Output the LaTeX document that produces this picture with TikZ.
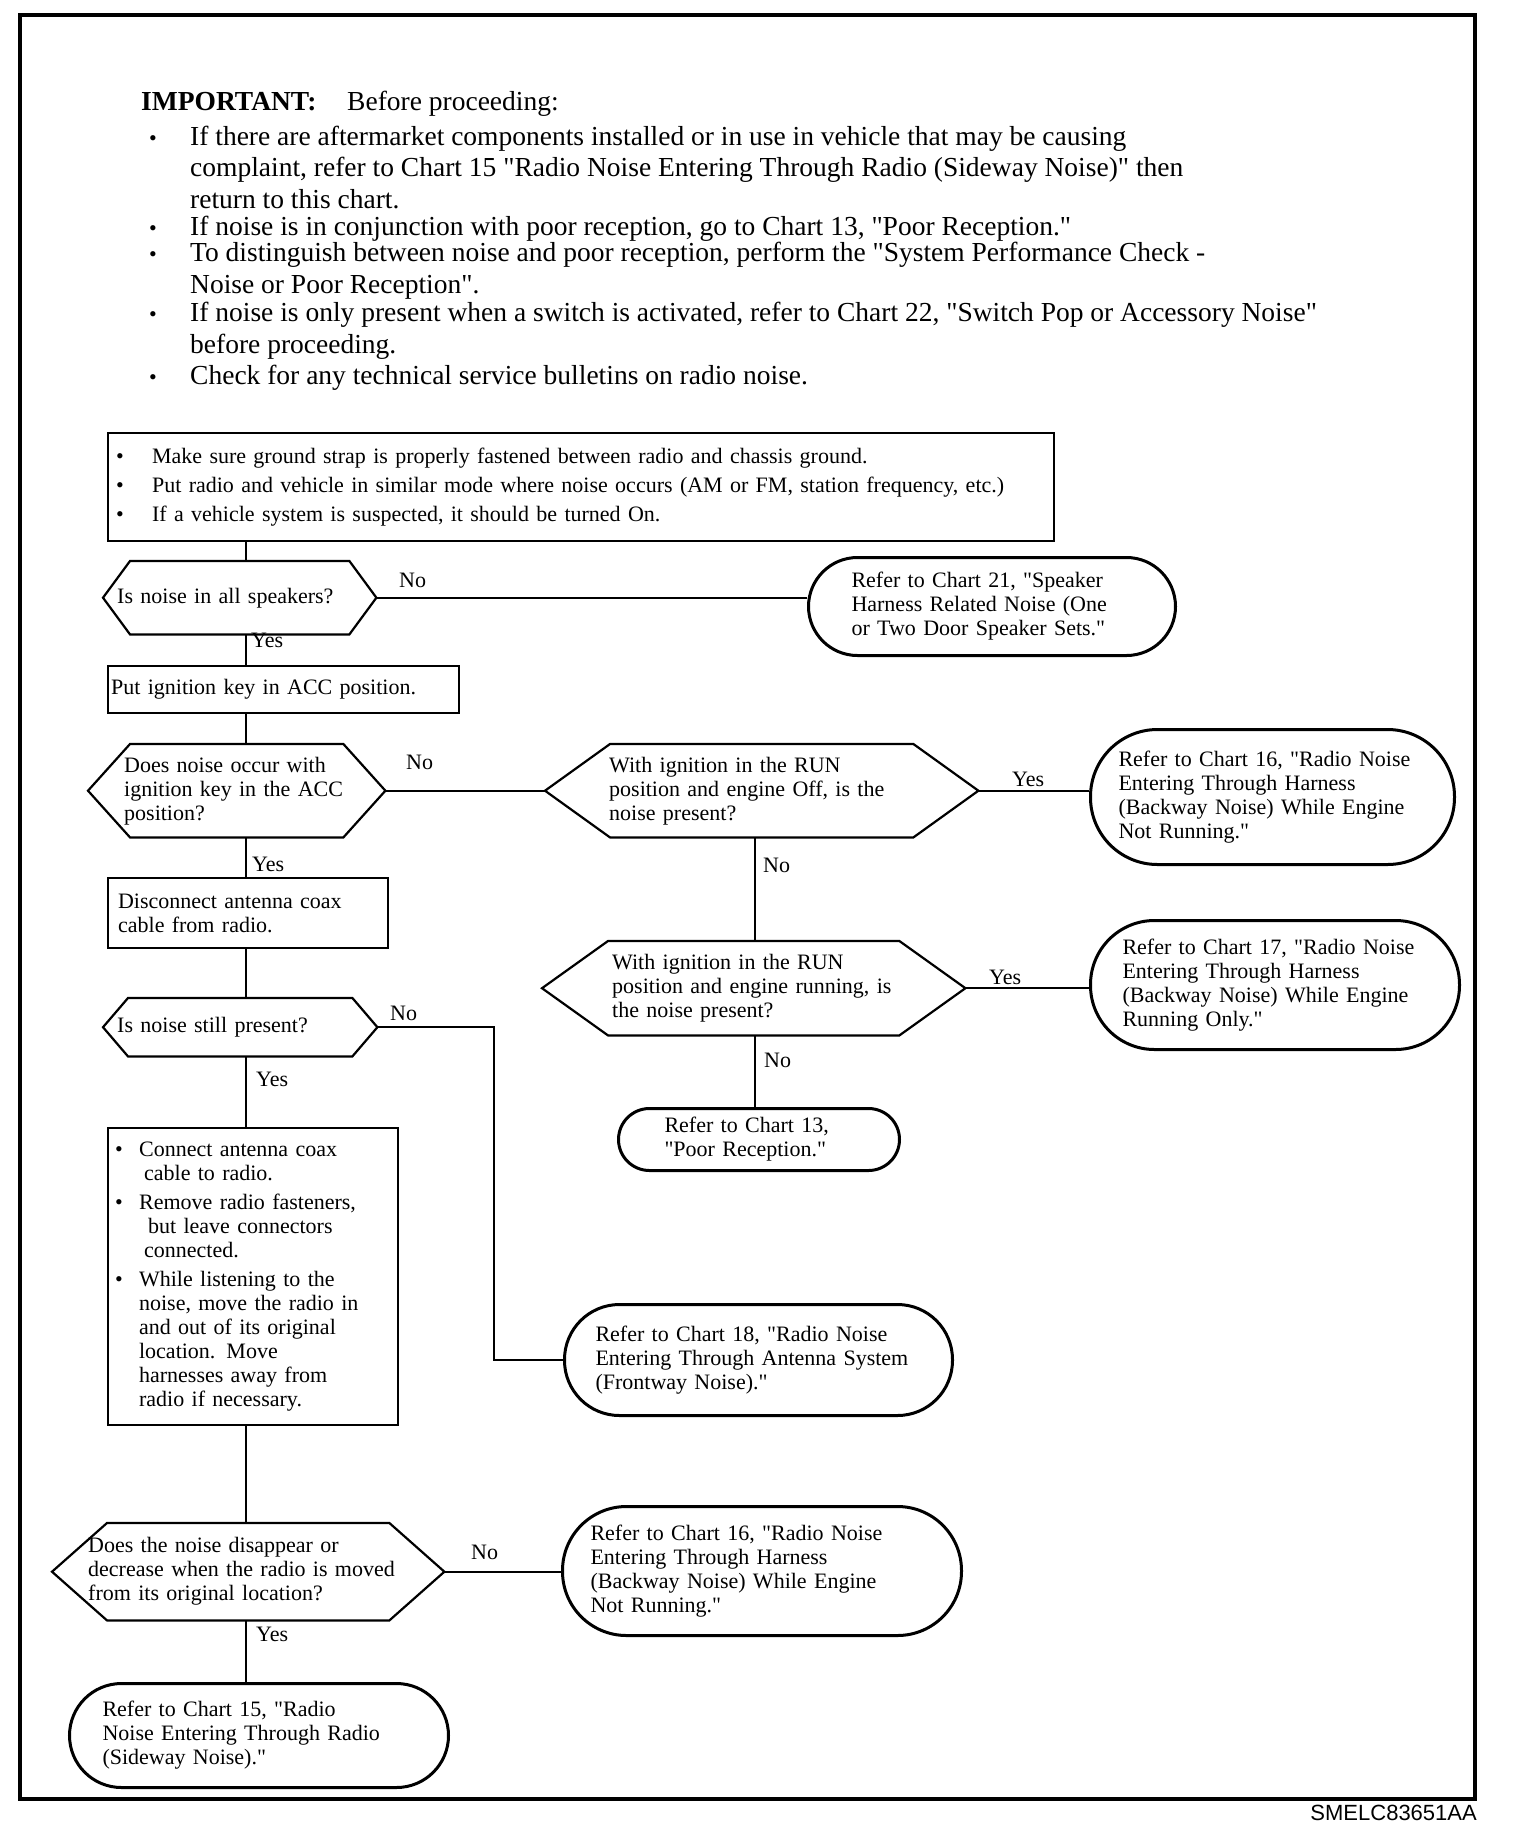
\documentclass[tikz,border=0pt]{standalone}
\usepackage{fontspec}
\setmainfont{Liberation Serif}[Ligatures=TeXOff]
\setsansfont{Liberation Sans}
\newcommand{\flowfont}{\fontsize{22}{24}\selectfont}
\newcommand{\impfont}{\fontsize{27.5}{31.5}\selectfont}
\newcommand{\bul}[1][36pt]{\makebox[#1][l]{\textbullet}}
\newcommand{\impbul}{\makebox[41pt][l]{\fontsize{22}{22}\selectfont\textbullet}}
\tikzset{
  box/.style={draw,line width=2.2pt,anchor=north west,align=left,font=\flowfont,inner ysep=0pt},
  term/.style={box,line width=3pt},
  quest/.style={anchor=north west,align=left,font=\flowfont,inner ysep=0pt},
  dims/.style n args={4}{minimum width=#1pt,minimum height=#2pt,inner xsep=#3pt,text width=#4pt},
  hexline/.style={line width=2.2pt,line join=miter},
  flow/.style={line width=1.6pt},
  lbl/.style={anchor=west,font=\flowfont,inner sep=0pt},
  imp/.style={anchor=base west,align=left,font=\impfont,inner sep=0pt},
}
\begin{document}
\begin{tikzpicture}[x=1pt,y=-1pt]
  \useasboundingbox (0,0) rectangle (1520,1840);
  % page frame
  \draw[line width=3.5pt] (20,15) rectangle (1475,1799);
  \node[anchor=east,inner sep=0pt,font=\sffamily\fontsize{22}{24}\selectfont] (code) at (1477,1813) {SMELC83651AA};
  % important notes (base = last line)
  \node[imp] (imphead) at (141,110) {\makebox[206pt][l]{\textbf{IMPORTANT:}}Before proceeding:};
  \node[imp] (imp1) at (149,208) {\impbul If there are aftermarket components installed or in use in vehicle that may be causing\\
    \hspace*{41pt}complaint, refer to Chart 15 "Radio Noise Entering Through Radio (Sideway Noise)" then\\
    \hspace*{41pt}return to this chart.};
  \node[imp] (imp2) at (149,235) {\impbul If noise is in conjunction with poor reception, go to Chart 13, "Poor Reception."};
  \node[imp] (imp3) at (149,293) {\impbul To distinguish between noise and poor reception, perform the "System Performance Check -\\
    \hspace*{41pt}Noise or Poor Reception".};
  \node[imp] (imp4) at (149,353) {\impbul If noise is only present when a switch is activated, refer to Chart 22, "Switch Pop or Accessory Noise"\\
    \hspace*{41pt}before proceeding.};
  \node[imp] (imp5) at (149,384) {\impbul Check for any technical service bulletins on radio noise.};
  % left column
  \coordinate (col) at (246,0);
  \coordinate (col2) at (755,0);
  \coordinate (bend) at (494,0);
  \node[box,dims={946}{108}{8}{930}] (b0) at (107,432) {\bul Make sure ground strap is properly fastened between radio and chassis ground.\\[5pt]
    \bul Put radio and vehicle in similar mode where noise occurs (AM or FM, station frequency, etc.)\\[5pt]
    \bul If a vehicle system is suspected, it should be turned On.};
  \node[quest,dims={273}{73}{14}{245}] (d1) at (103,561) {Is noise in all speakers?};
  \node[box,dims={351}{47}{3}{345}] (b1) at (107,665) {Put ignition key in ACC position.};
  \node[quest,dims={297}{93}{36}{225}] (d2) at (88,744) {Does noise occur with\\ignition key in the ACC\\position?};
  \node[box,dims={280}{70}{10}{260}] (b2) at (107,877) {Disconnect antenna coax\\cable from radio.};
  \node[quest,dims={274}{58}{14}{246}] (d5) at (103,998) {Is noise still present?};
  \node[box,dims={290}{297}{7}{276}] (b3) at (107,1127) {\bul[24pt]Connect antenna coax\\
    \hspace*{29pt}cable to radio.\\[5pt]
    \bul[24pt]Remove radio fasteners,\\
    \hspace*{33pt}but leave connectors\\
    \hspace*{29pt}connected.\\[5pt]
    \bul[24pt]While listening to the\\
    \hspace*{24pt}noise, move the radio in\\
    \hspace*{24pt}and out of its original\\
    \hspace*{24pt}location. Move\\
    \hspace*{24pt}harnesses away from\\
    \hspace*{24pt}radio if necessary.};
  \node[quest,dims={392}{97}{36}{320}] (d6) at (52,1523) {Does the noise disappear or\\decrease when the radio is moved\\from its original location?};
  \node[term,dims={379}{104}{33}{313},rounded corners=52pt] (t7) at (68,1682) {Refer to Chart 15, "Radio\\Noise Entering Through Radio\\(Sideway Noise)."};
  % right side
  \node[term,dims={367}{98}{43}{281},rounded corners=49pt] (t1) at (807,556) {Refer to Chart 21, "Speaker\\Harness Related Noise (One\\or Two Door Speaker Sets."};
  \node[quest,dims={433}{93}{64}{305}] (d3) at (545,744) {With ignition in the RUN\\position and engine Off, is the\\noise present?};
  \node[term,dims={364}{135}{28}{308},rounded corners=67pt] (t2) at (1089,728) {Refer to Chart 16, "Radio Noise\\Entering Through Harness\\(Backway Noise) While Engine\\Not Running."};
  \node[quest,dims={423}{94}{70}{283}] (d4) at (542,941) {With ignition in the RUN\\position and engine running, is\\the noise present?};
  \node[term,dims={369}{129}{32}{305},rounded corners=64pt] (t3) at (1089,919) {Refer to Chart 17, "Radio Noise\\Entering Through Harness\\(Backway Noise) While Engine\\Running Only."};
  \node[term,dims={281}{62}{46}{189},rounded corners=31pt] (t4) at (617,1107) {Refer to Chart 13,\\"Poor Reception."};
  \node[term,dims={388}{111}{31}{326},rounded corners=55pt] (t5) at (563,1303) {Refer to Chart 18, "Radio Noise\\Entering Through Antenna System\\(Frontway Noise)."};
  \node[term,dims={399}{129}{28}{343},rounded corners=64pt] (t6) at (561,1505) {Refer to Chart 16, "Radio Noise\\Entering Through Harness\\(Backway Noise) While Engine\\Not Running."};
  % decision outlines
  \foreach \n/\s in {d1/27,d2/42,d3/65,d4/66,d5/25,d6/55}
    \draw[hexline] ([xshift=\s pt]\n.north west) -- ([xshift=-\s pt]\n.north east) -- (\n.east)
      -- ([xshift=-\s pt]\n.south east) -- ([xshift=\s pt]\n.south west) -- (\n.west) -- cycle;
  % connectors
  \draw[flow] (b0.south -| col) -- (d1.north -| col);
  \draw[flow] (d1.south -| col) -- (b1.north -| col);
  \draw[flow] (b1.south -| col) -- (d2.north -| col);
  \draw[flow] (d2.south -| col) -- (b2.north -| col);
  \draw[flow] (b2.south -| col) -- (d5.north -| col);
  \draw[flow] (d5.south -| col) -- (b3.north -| col);
  \draw[flow] (b3.south -| col) -- (d6.north -| col);
  \draw[flow] (d6.south -| col) -- (t7.north -| col);
  \draw[flow] (d1.east) -- (d1.east -| t1.west);
  \draw[flow] (d2.east) -- (d3.west);
  \draw[flow] (d3.east) -- (d3.east -| t2.west);
  \draw[flow] (d3.south -| col2) -- (d4.north -| col2);
  \draw[flow] (d4.east) -- (d4.east -| t3.west);
  \draw[flow] (d4.south -| col2) -- (t4.north -| col2);
  \draw[flow] (d5.east) -- (d5.east -| bend) |- (t5.west);
  \draw[flow] (d6.east) -- (d6.east -| t6.west);
  % answers
  \node[lbl] (no1) at (399,580) {No};
  \node[lbl] (yes1) at (251,640) {Yes};
  \node[lbl] (no2) at (406,762) {No};
  \node[lbl] (yes2) at (1012,779) {Yes};
  \node[lbl] (no3) at (763,865) {No};
  \node[lbl] (yes3) at (252,864) {Yes};
  \node[lbl] (yes4) at (989,977) {Yes};
  \node[lbl] (no4) at (390,1013) {No};
  \node[lbl] (yes5) at (256,1079) {Yes};
  \node[lbl] (no5) at (764,1060) {No};
  \node[lbl] (no6) at (471,1552) {No};
  \node[lbl] (yes6) at (256,1634) {Yes};
\end{tikzpicture}
\end{document}
